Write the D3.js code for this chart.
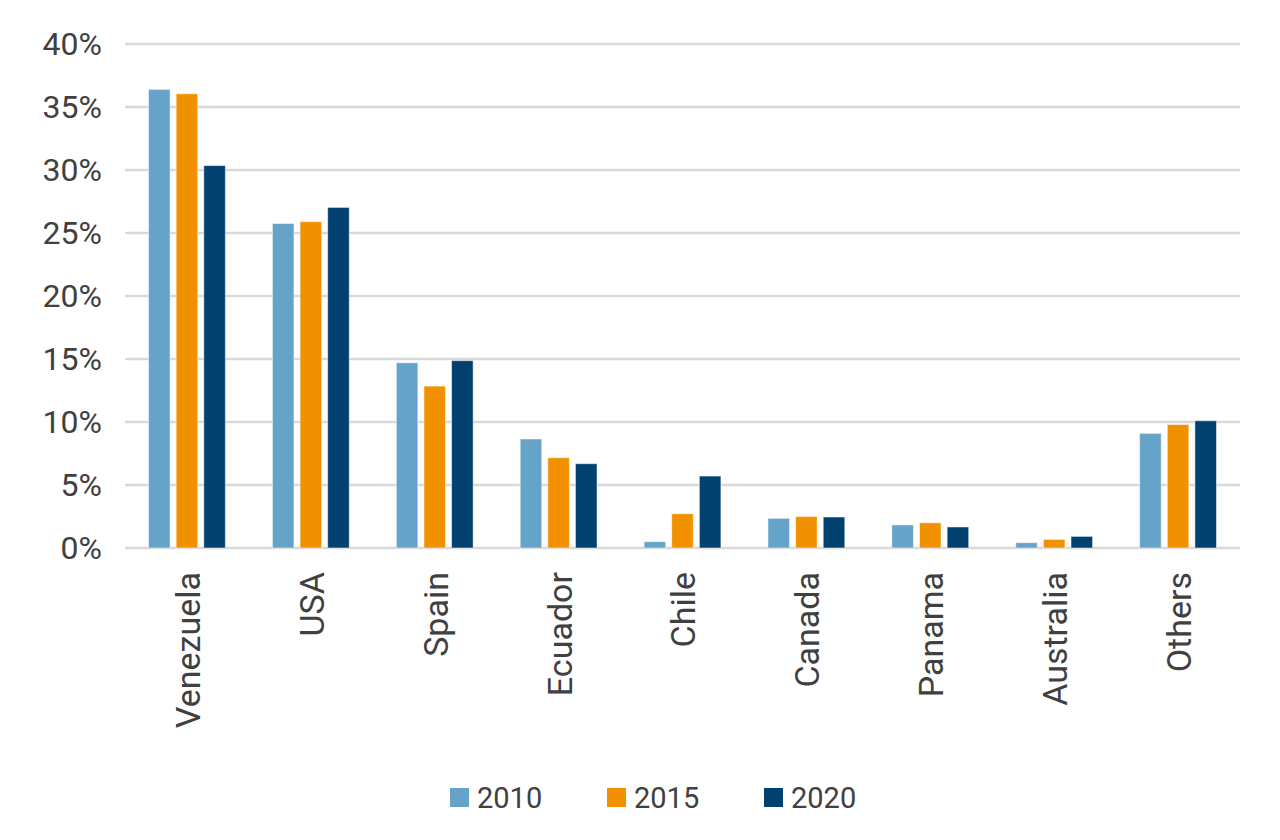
<!DOCTYPE html>
<html>
<head>
<meta charset="utf-8">
<script src="https://cdn.jsdelivr.net/npm/d3@7"></script>
<style>
  body { margin: 0; background: #fff; }
  text { font-family: Roboto, "Noto Sans", sans-serif; fill: #404040; }
</style>
</head>
<body>
<svg id="chart" width="1280" height="840"></svg>
<script>
const countries = ["Venezuela", "USA", "Spain", "Ecuador", "Chile", "Canada", "Panama", "Australia", "Others"];
const years = ["2010", "2015", "2020"];
const values2010 = [36.4, 25.75, 14.7, 8.65, 0.5, 2.35, 1.83, 0.42, 9.1];
const values2015 = [36.05, 25.9, 12.85, 7.17, 2.72, 2.5, 2.0, 0.68, 9.8];
const values2020 = [30.35, 27.03, 14.87, 6.69, 5.71, 2.46, 1.67, 0.92, 10.1];
const yTicks = [0, 5, 10, 15, 20, 25, 30, 35, 40];
const colors = ["#65a3c8", "#f29100", "#00416f"];

const seriesByYear = { "2010": values2010, "2015": values2015, "2020": values2020 };

const svg = d3.select("#chart");
const margin = {top: 44, right: 40, bottom: 292, left: 125};
const width = +svg.attr("width");
const height = +svg.attr("height");

const y = d3.scaleLinear()
    .domain([0, 40])
    .range([548, 44]);

const x0 = d3.scaleBand()
    .domain(countries)
    .range([margin.left, 1240])
    .paddingInner(0.38)
    .paddingOuter(0.19);

const x1 = d3.scaleBand()
    .domain(years)
    .range([0, x0.bandwidth()])
    .paddingInner(0.22);

const color = d3.scaleOrdinal().domain(years).range(colors);

// gridlines
svg.append("g")
    .selectAll("line")
    .data(yTicks)
    .join("line")
    .attr("x1", margin.left)
    .attr("x2", 1240)
    .attr("y1", d => y(d))
    .attr("y2", d => y(d))
    .attr("stroke", "#d9d9d9")
    .attr("stroke-width", 2.5);

// y labels
const yAxis = d3.axisLeft(y)
    .tickValues(yTicks)
    .tickFormat(d => d + "%")
    .tickSize(0)
    .tickPadding(0);

svg.append("g")
    .attr("transform", "translate(102,0)")
    .call(yAxis)
    .call(g => g.select(".domain").remove())
    .selectAll("text")
    .style("font-size", "32px")
    .style("font-family", "Roboto, sans-serif")
    .attr("fill", "#404040");

// bars
const groups = svg.append("g")
    .selectAll("g")
    .data(countries)
    .join("g")
    .attr("transform", d => `translate(${x0(d)},0)`);

groups.selectAll("rect")
    .data((c, i) => years.map(yr => ({year: yr, value: seriesByYear[yr][i]})))
    .join("rect")
    .attr("x", d => x1(d.year))
    .attr("y", d => y(d.value))
    .attr("width", x1.bandwidth())
    .attr("height", d => y(0) - y(d.value))
    .attr("fill", d => color(d.year))
    .attr("stroke", "#ffffff")
    .attr("stroke-opacity", 0.5)
    .attr("stroke-width", 1);

// category labels, rotated
svg.append("g")
    .selectAll("text")
    .data(countries)
    .join("text")
    .attr("transform", d => `translate(${x0(d) + x0.bandwidth() / 2 + 1},572) rotate(-90)`)
    .attr("text-anchor", "end")
    .attr("dy", "0.35em")
    .style("font-size", "34px")
    .text(d => d);

// legend
const legend = svg.append("g")
    .attr("transform", "translate(450,788)");

const item = legend.selectAll("g")
    .data(years)
    .join("g")
    .attr("transform", (d, i) => `translate(${i * 157},0)`);

item.append("rect")
    .attr("width", 19)
    .attr("height", 19)
    .attr("fill", d => color(d));

item.append("text")
    .attr("x", 27)
    .attr("y", 9.5)
    .attr("dy", "0.35em")
    .style("font-size", "29px")
    .text(d => d);
</script>
</body>
</html>
